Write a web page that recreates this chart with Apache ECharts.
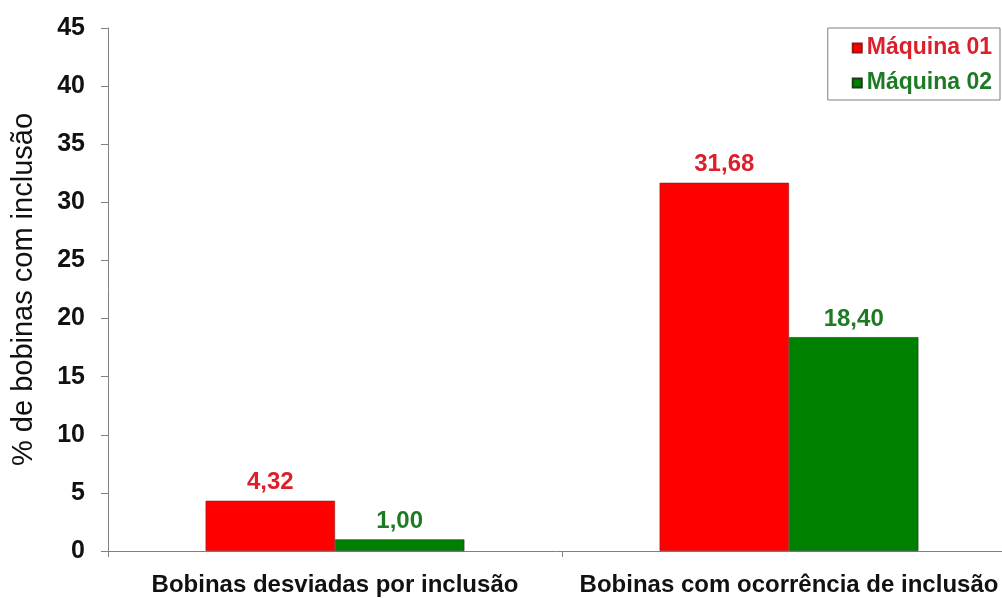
<!DOCTYPE html>
<html>
<head>
<meta charset="utf-8">
<script src="https://cdn.jsdelivr.net/npm/echarts@6/dist/echarts.min.js"></script>
<style>
  html, body { margin: 0; padding: 0; background: #ffffff; }
  #chart { width: 1002px; height: 598px; }
</style>
</head>
<body>
<div id="chart"></div>
<script>
// Categories and series values (% of coils with inclusion)
const categories = ['Bobinas desviadas por inclusão', 'Bobinas com ocorrência de inclusão'];
const maquina01 = [4.32, 31.68];
const maquina02 = [1.00, 18.40];
const seriesNames = ['Máquina 01', 'Máquina 02'];
const yTicks = { min: 0, max: 45, interval: 5 };

const RED = '#ff0000';
const GREEN = '#008000';
const RED_TEXT = '#dd1f2b';
const GREEN_TEXT = '#1e7a25';
const FONT = 'Liberation Sans';

const fmt = v => v.toFixed(2).replace('.', ',');

const chart = echarts.init(document.getElementById('chart'));
chart.setOption({
  animation: false,
  backgroundColor: '#ffffff',
  // plot area runs slightly past the right edge of the canvas
  grid: { left: 108, right: -14, top: 28, bottom: 47, containLabel: false, outerBoundsMode: 'none' },
  legend: {
    right: 2, top: 28,
    orient: 'vertical',
    backgroundColor: '#ffffff',
    borderColor: '#7f7f7f', borderWidth: 1,
    padding: [7, 8, 4, 24],
    itemGap: 9,
    itemWidth: 9, itemHeight: 9,
    icon: 'rect',
    data: [
      { name: seriesNames[0], textStyle: { color: RED_TEXT } },
      { name: seriesNames[1], textStyle: { color: GREEN_TEXT } }
    ],
    textStyle: { fontFamily: FONT, fontWeight: 'bold', fontSize: 23, lineHeight: 26, padding: [0, 0, 0, 0] }
  },
  xAxis: {
    type: 'category',
    data: categories,
    axisLine: { lineStyle: { color: '#808080', width: 1 } },
    axisTick: { show: true, length: 6, lineStyle: { color: '#808080' } },
    axisLabel: {
      interval: 0,
      color: '#111111', fontFamily: FONT, fontWeight: 'bold', fontSize: 24,
      margin: 22
    }
  },
  yAxis: {
    type: 'value',
    min: yTicks.min, max: yTicks.max, interval: yTicks.interval,
    name: '% de bobinas com inclusão',
    nameLocation: 'middle',
    nameGap: 70,
    nameTextStyle: { color: '#111111', fontFamily: FONT, fontSize: 29 },
    splitLine: { show: false },
    axisLine: { show: true, lineStyle: { color: '#808080', width: 1 } },
    axisTick: { show: true, length: 7, lineStyle: { color: '#808080' } },
    axisLabel: {
      color: '#111111', fontFamily: FONT, fontWeight: 'bold', fontSize: 25,
      margin: 23
    }
  },
  series: [
    {
      name: seriesNames[0], type: 'bar', data: maquina01,
      barGap: '0%', barCategoryGap: '43%',
      itemStyle: { color: RED, borderColor: '#8a1a1a', borderWidth: 0.6 },
      label: {
        show: true, position: 'top', distance: 6,
        formatter: p => fmt(p.value),
        color: RED_TEXT, fontFamily: FONT, fontWeight: 'bold', fontSize: 24
      }
    },
    {
      name: seriesNames[1], type: 'bar', data: maquina02,
      itemStyle: { color: GREEN, borderColor: '#1a3a1a', borderWidth: 0.6 },
      label: {
        show: true, position: 'top', distance: 6,
        formatter: p => fmt(p.value),
        color: GREEN_TEXT, fontFamily: FONT, fontWeight: 'bold', fontSize: 24
      }
    }
  ]
});
</script>
</body>
</html>
